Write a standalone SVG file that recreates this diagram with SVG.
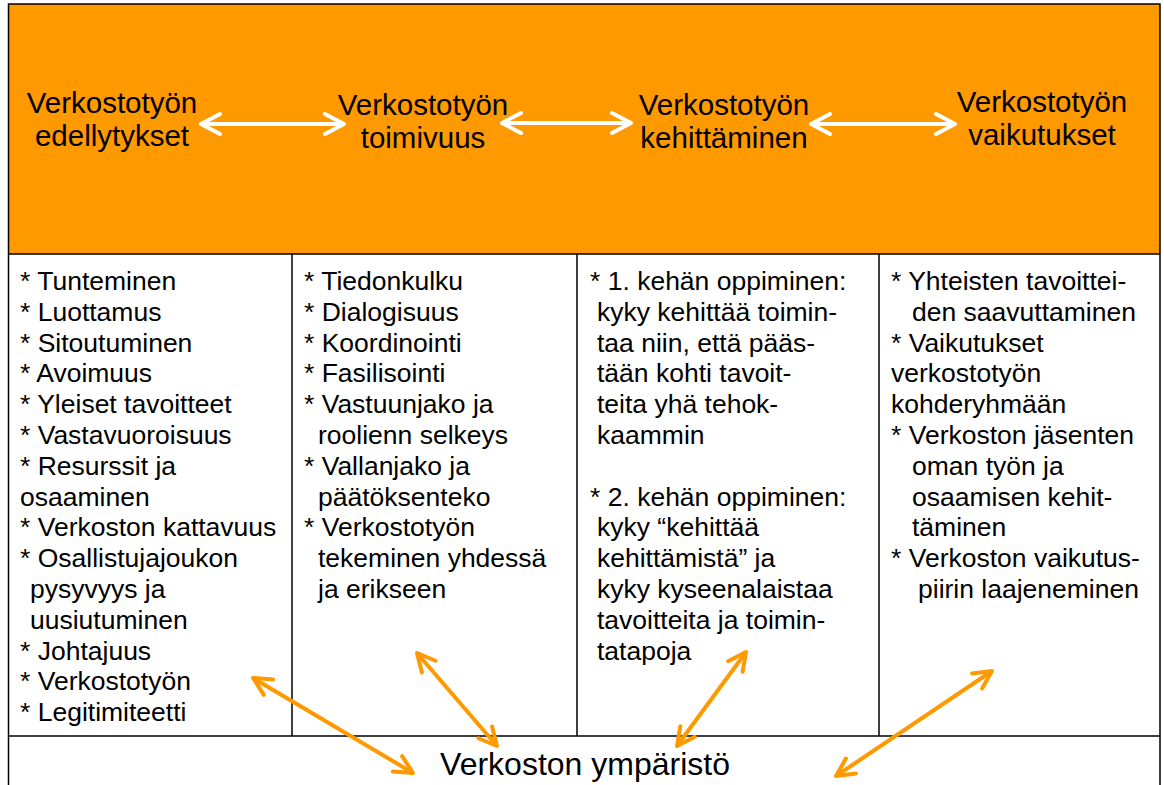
<svg xmlns="http://www.w3.org/2000/svg" width="1164" height="785" viewBox="0 0 1164 785">
<style>
.hd{font-family:"Liberation Sans",Arial,sans-serif;font-size:29.5px;fill:#000;text-anchor:middle}
.bd{font-family:"Liberation Sans",Arial,sans-serif;font-size:26.5px;fill:#000}
.ft{font-family:"Liberation Sans",Arial,sans-serif;font-size:32px;fill:#000;text-anchor:middle}
.grid{stroke:#000;stroke-width:1.5;fill:none}
.wa{stroke:#fff;stroke-width:4;fill:none}
.oa{stroke:#FF9900;stroke-width:4;fill:none}
</style>
<defs>
<marker id="wh" viewBox="0 0 24 24" refX="21" refY="12" markerWidth="24" markerHeight="24" markerUnits="userSpaceOnUse" orient="auto-start-reverse">
<path d="M2,2 L21,12 L2,22" fill="none" stroke="#fff" stroke-width="4" stroke-linecap="round" stroke-linejoin="round"/>
</marker>
<marker id="oh" viewBox="0 0 24 24" refX="21" refY="12" markerWidth="24" markerHeight="24" markerUnits="userSpaceOnUse" orient="auto-start-reverse">
<path d="M3,3 L21,12 L3,21" fill="none" stroke="#FF9900" stroke-width="4" stroke-linecap="round" stroke-linejoin="round"/>
</marker>
</defs>
<rect x="0" y="0" width="1164" height="785" fill="#fff"/>
<g id="table">
<rect x="8.5" y="4" width="1151.5" height="250" fill="#FF9900"/>
<path class="grid" d="M8.5,790 V4 H1160 V790 M8.5,254 H1160 M8.5,736 H1160 M292,254 V736 M577,254 V736 M879,254 V736"/>
</g>
<g id="head-edellytykset"><text class="hd"><tspan x="112" y="113">Verkostotyön</tspan><tspan x="112" y="146">edellytykset</tspan></text></g>
<g id="head-toimivuus"><text class="hd"><tspan x="423" y="115">Verkostotyön</tspan><tspan x="423" y="148">toimivuus</tspan></text></g>
<g id="head-kehittaminen"><text class="hd"><tspan x="724" y="115">Verkostotyön</tspan><tspan x="724" y="148">kehittäminen</tspan></text></g>
<g id="head-vaikutukset"><text class="hd"><tspan x="1042" y="112">Verkostotyön</tspan><tspan x="1042" y="145">vaikutukset</tspan></text></g>
<g id="col1"><text class="bd">
<tspan x="20" y="290">* Tunteminen</tspan>
<tspan x="20" y="320.8">* Luottamus</tspan>
<tspan x="20" y="351.6">* Sitoutuminen</tspan>
<tspan x="20" y="382.4">* Avoimuus</tspan>
<tspan x="20" y="413.2">* Yleiset tavoitteet</tspan>
<tspan x="20" y="444">* Vastavuoroisuus</tspan>
<tspan x="20" y="474.8">* Resurssit ja</tspan>
<tspan x="20" y="505.6">osaaminen</tspan>
<tspan x="20" y="536.4">* Verkoston kattavuus</tspan>
<tspan x="20" y="567.2">* Osallistujajoukon</tspan>
<tspan x="30" y="598">pysyvyys ja</tspan>
<tspan x="30" y="628.8">uusiutuminen</tspan>
<tspan x="20" y="659.6">* Johtajuus</tspan>
<tspan x="20" y="690.4">* Verkostotyön</tspan>
<tspan x="20" y="721.2">* Legitimiteetti</tspan>
</text></g>
<g id="col2"><text class="bd">
<tspan x="304" y="290">* Tiedonkulku</tspan>
<tspan x="304" y="320.8">* Dialogisuus</tspan>
<tspan x="304" y="351.6">* Koordinointi</tspan>
<tspan x="304" y="382.4">* Fasilisointi</tspan>
<tspan x="304" y="413.2">* Vastuunjako ja</tspan>
<tspan x="318" y="444">roolienn selkeys</tspan>
<tspan x="304" y="474.8">* Vallanjako ja</tspan>
<tspan x="318" y="505.6">päätöksenteko</tspan>
<tspan x="304" y="536.4">* Verkostotyön</tspan>
<tspan x="318" y="567.2">tekeminen yhdessä</tspan>
<tspan x="318" y="598">ja erikseen</tspan>
</text></g>
<g id="col3"><text class="bd">
<tspan x="590" y="290">* 1. kehän oppiminen:</tspan>
<tspan x="597" y="320.8">kyky kehittää toimin-</tspan>
<tspan x="597" y="351.6">taa niin, että pääs-</tspan>
<tspan x="597" y="382.4">tään kohti tavoit-</tspan>
<tspan x="597" y="413.2">teita yhä tehok-</tspan>
<tspan x="597" y="444">kaammin</tspan>
<tspan x="590" y="505.6">* 2. kehän oppiminen:</tspan>
<tspan x="597" y="536.4">kyky “kehittää</tspan>
<tspan x="597" y="567.2">kehittämistä” ja</tspan>
<tspan x="597" y="598">kyky kyseenalaistaa</tspan>
<tspan x="597" y="628.8">tavoitteita ja toimin-</tspan>
<tspan x="597" y="659.6">tatapoja</tspan>
</text></g>
<g id="col4"><text class="bd">
<tspan x="891" y="290">* Yhteisten tavoittei-</tspan>
<tspan x="912" y="320.8">den saavuttaminen</tspan>
<tspan x="891" y="351.6">* Vaikutukset</tspan>
<tspan x="891" y="382.4">verkostotyön</tspan>
<tspan x="891" y="413.2">kohderyhmään</tspan>
<tspan x="891" y="444">* Verkoston jäsenten</tspan>
<tspan x="912" y="474.8">oman työn ja</tspan>
<tspan x="912" y="505.6">osaamisen kehit-</tspan>
<tspan x="912" y="536.4">täminen</tspan>
<tspan x="891" y="567.2">* Verkoston vaikutus-</tspan>
<tspan x="918" y="598">piirin laajeneminen</tspan>
</text></g>
<g id="environment"><text class="ft" x="585" y="775">Verkoston ympäristö</text></g>
<g id="connectors">
<line class="wa" x1="201" y1="124" x2="344" y2="124" marker-start="url(#wh)" marker-end="url(#wh)"/>
<line class="wa" x1="502" y1="123" x2="631" y2="123" marker-start="url(#wh)" marker-end="url(#wh)"/>
<line class="wa" x1="811" y1="124" x2="955" y2="124" marker-start="url(#wh)" marker-end="url(#wh)"/>
<line class="oa" x1="253" y1="678" x2="413" y2="773" marker-start="url(#oh)" marker-end="url(#oh)"/>
<line class="oa" x1="417" y1="653" x2="497" y2="746" marker-start="url(#oh)" marker-end="url(#oh)"/>
<line class="oa" x1="746" y1="652" x2="677" y2="746" marker-start="url(#oh)" marker-end="url(#oh)"/>
<line class="oa" x1="992" y1="671" x2="836" y2="776" marker-start="url(#oh)" marker-end="url(#oh)"/>
</g>
</svg>
